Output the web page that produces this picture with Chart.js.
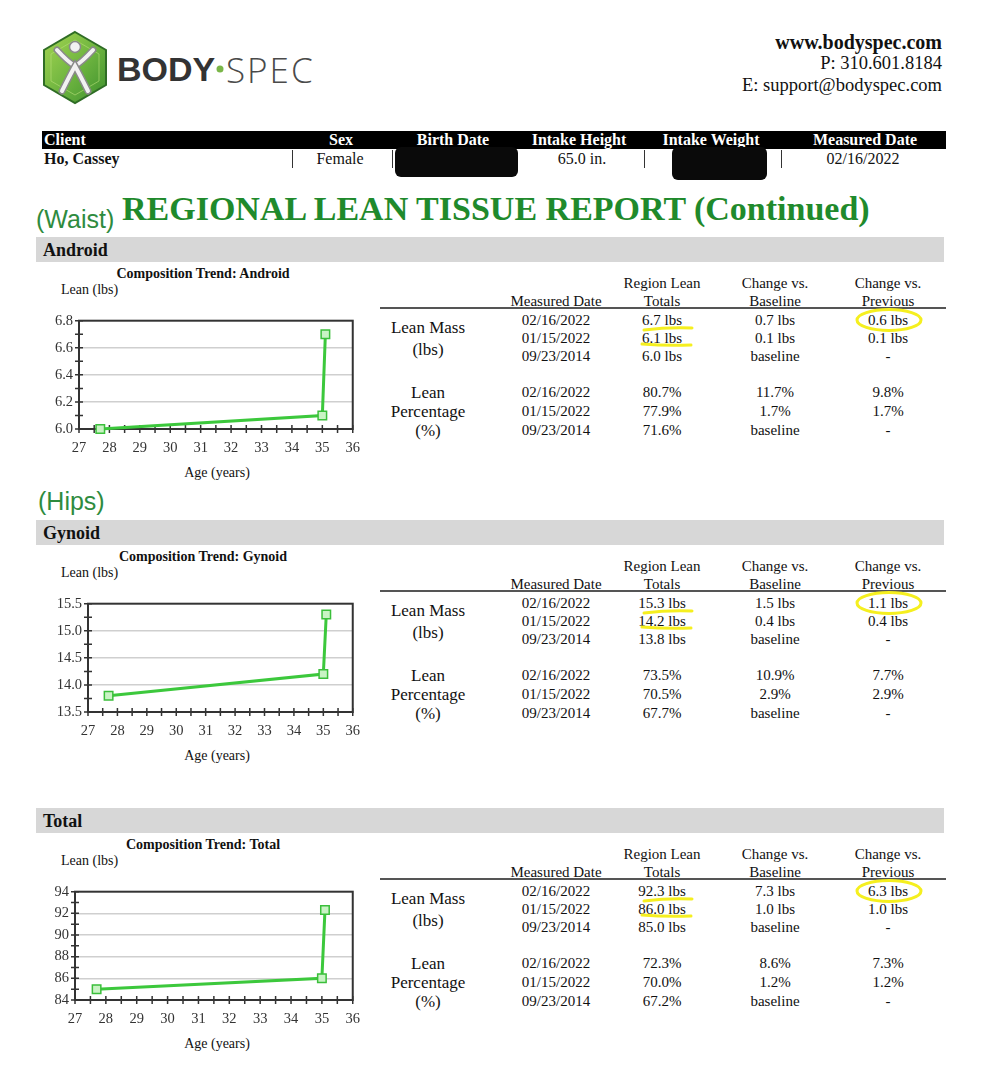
<!DOCTYPE html>
<html>
<head>
<meta charset="utf-8">
<script src="https://cdn.jsdelivr.net/npm/chart.js@4.4.1/dist/chart.umd.min.js"></script>
<style>
  body { margin: 0; background: #fff; }
  #page { position: relative; width: 1000px; height: 1076px; overflow: hidden;
          font-family: "Liberation Serif", "Times New Roman", serif; color: #111; }
  .t { position: absolute; white-space: nowrap; line-height: 1; }
  .box { position: absolute; }
  svg.overlay { position: absolute; left: 0; top: 0; pointer-events: none; }
</style>
</head>
<body>
<div id="page">
  <svg class="overlay" width="300" height="120" style="z-index:1">
    <defs>
      <linearGradient id="hexg" x1="0" y1="0" x2="1" y2="1">
        <stop offset="0" stop-color="#a6d651"/>
        <stop offset="0.55" stop-color="#6cb33f"/>
        <stop offset="1" stop-color="#3c8f2c"/>
      </linearGradient>
    </defs>
    <polygon points="75,32 106,50 106,85 75,103 44,85 44,50" fill="url(#hexg)" stroke="#2f6d25" stroke-width="2"/>
    <polygon points="75,40 99,54 99,81 75,95 51,81 51,54" fill="none" stroke="#b9e07a" stroke-width="1" opacity="0.6"/>
    <path d="M57,50 Q68,62 75,66 Q82,62 93,50" fill="none" stroke="#8a8a8a" stroke-width="7" stroke-linecap="round"/>
    <path d="M57,50 Q68,62 75,66 Q82,62 93,50" fill="none" stroke="#f2f2f2" stroke-width="4" stroke-linecap="round"/>
    <path d="M62,91 Q70,75 75,66 Q80,75 88,91" fill="none" stroke="#8a8a8a" stroke-width="7" stroke-linecap="round"/>
    <path d="M62,91 Q70,75 75,66 Q80,75 88,91" fill="none" stroke="#f2f2f2" stroke-width="4" stroke-linecap="round"/>
    <circle cx="75" cy="47" r="5.5" fill="#f2f2f2" stroke="#8a8a8a" stroke-width="1.5"/>
    <circle cx="220" cy="69" r="3.5" fill="#7ab648"/>
  </svg>
</div>
<script>
// chart values, oldest scan first
const ages = [27.7, 35.0, 35.1];
const androidLean = [6.0, 6.1, 6.7];
const gynoidLean = [13.8, 14.2, 15.3];
const totalLean = [85.0, 86.0, 92.3];
const ageMin = 27, ageMax = 36;

// table values, newest scan first
const measuredDates = ['02/16/2022', '01/15/2022', '09/23/2014'];
const androidTotals = ['6.7 lbs', '6.1 lbs', '6.0 lbs'];
const androidVsBase = ['0.7 lbs', '0.1 lbs', 'baseline'];
const androidVsPrev = ['0.6 lbs', '0.1 lbs', '-'];
const androidPct = ['80.7%', '77.9%', '71.6%'];
const androidPctBase = ['11.7%', '1.7%', 'baseline'];
const androidPctPrev = ['9.8%', '1.7%', '-'];
const gynoidTotals = ['15.3 lbs', '14.2 lbs', '13.8 lbs'];
const gynoidVsBase = ['1.5 lbs', '0.4 lbs', 'baseline'];
const gynoidVsPrev = ['1.1 lbs', '0.4 lbs', '-'];
const gynoidPct = ['73.5%', '70.5%', '67.7%'];
const gynoidPctBase = ['10.9%', '2.9%', 'baseline'];
const gynoidPctPrev = ['7.7%', '2.9%', '-'];
const totalTotals = ['92.3 lbs', '86.0 lbs', '85.0 lbs'];
const totalVsBase = ['7.3 lbs', '1.0 lbs', 'baseline'];
const totalVsPrev = ['6.3 lbs', '1.0 lbs', '-'];
const totalPct = ['72.3%', '70.0%', '67.2%'];
const totalPctBase = ['8.6%', '1.2%', 'baseline'];
const totalPctPrev = ['7.3%', '1.2%', '-'];

const clientHeads = ['Client', 'Sex', 'Birth Date', 'Intake Height', 'Intake Weight', 'Measured Date'];
const clientVals = ['Ho, Cassey', 'Female', '', '65.0 in.', '', '02/16/2022'];

const page = document.getElementById('page');
const SERIF = '"Liberation Serif", "Times New Roman", serif';
const GREEN = '#1f8a2c';

function put(x, y, s, css, align) {
  const d = document.createElement('div');
  d.className = 't';
  d.textContent = s;
  d.style.left = x + 'px';
  d.style.top = y + 'px';
  const tx = align === 'left' ? '0' : align === 'right' ? '-100%' : '-50%';
  d.style.transform = 'translate(' + tx + ',-50%)';
  Object.assign(d.style, css || {});
  page.appendChild(d);
  return d;
}
function rect(x, y, w, h, css) {
  const d = document.createElement('div');
  d.className = 'box';
  Object.assign(d.style, { left: x + 'px', top: y + 'px', width: w + 'px', height: h + 'px' }, css || {});
  page.appendChild(d);
  return d;
}

// ---- header ----
put(117, 69, 'BODY', { fontFamily: '"Liberation Sans", Arial, sans-serif', fontWeight: 'bold', fontSize: '34px', color: '#333' }, 'left');
put(226, 69, 'SPEC', { fontFamily: '"Open Sans", sans-serif', fontWeight: '300', fontSize: '35px', color: '#4a4a4a', letterSpacing: '2px' }, 'left');
put(942, 42, 'www.bodyspec.com', { fontWeight: 'bold', fontSize: '20px' }, 'right');
put(942, 63, 'P: 310.601.8184', { fontSize: '18.5px' }, 'right');
put(942, 85, 'E: support@bodyspec.com', { fontSize: '18.5px' }, 'right');

rect(42, 131, 904, 18, { background: '#000' });
const headX = [44, 341, 453, 579, 711, 865];
clientHeads.forEach((h, i) => {
  put(headX[i], 140, h, { color: '#fff', fontWeight: 'bold', fontSize: '16px' }, i === 0 ? 'left' : 'center');
});
const valX = [44, 340, 453, 582, 711, 863];
clientVals.forEach((v, i) => {
  if (v) put(valX[i], 159, v, { fontSize: '16px', fontWeight: i === 0 ? 'bold' : 'normal' }, i === 0 ? 'left' : 'center');
});
[292, 392, 644, 781].forEach(x => rect(x, 150, 1, 18, { background: '#333' }));
rect(395, 147, 123, 30, { background: '#0a0a0a', borderRadius: '6px' });
rect(672, 147, 95, 33, { background: '#0a0a0a', borderRadius: '6px' });

put(122, 209, 'REGIONAL LEAN TISSUE REPORT (Continued)', { color: GREEN, fontWeight: 'bold', fontSize: '34px' }, 'left');
put(36, 219, '(Waist)', { color: '#2e8b3e', fontFamily: '"Liberation Sans", Arial, sans-serif', fontSize: '25px' }, 'left');
put(38, 501, '(Hips)', { color: '#2e8b3e', fontFamily: '"Liberation Sans", Arial, sans-serif', fontSize: '25px' }, 'left');

// ---- chart helpers ----
const frameTicks = {
  id: 'frameTicks',
  beforeDatasetsDraw(chart, args, opts) {
    const { ctx, chartArea: a, scales: { x, y } } = chart;
    ctx.save();
    ctx.strokeStyle = '#333';
    ctx.lineWidth = 1.5;
    ctx.beginPath();
    const nx = Math.round((ageMax - ageMin) / opts.xStep);
    for (let i = 0; i <= nx; i++) {
      const px = x.getPixelForValue(ageMin + i * opts.xStep);
      ctx.moveTo(px, a.bottom - 4); ctx.lineTo(px, a.bottom + 4);
    }
    const ny = Math.round((y.max - y.min) / opts.yStep);
    for (let i = 0; i <= ny; i++) {
      const py = y.getPixelForValue(y.min + i * opts.yStep);
      ctx.moveTo(a.left - 4, py); ctx.lineTo(a.left + 4, py);
    }
    ctx.stroke();
    ctx.lineWidth = 2;
    ctx.strokeRect(a.left, a.top, a.right - a.left, a.bottom - a.top);
    ctx.restore();
  }
};

function trendChart(top, plotLeft, lean, yMin, yMax, yStep, yMinor, dec) {
  const left = plotLeft - 40;
  const box = rect(left, top + 69, 370 - left, 153);
  const cv = document.createElement('canvas');
  box.appendChild(cv);
  new Chart(cv, {
    type: 'line',
    data: {
      datasets: [{
        data: ages.map((a, i) => ({ x: a, y: lean[i] })),
        borderColor: '#3cc83c',
        borderWidth: 3,
        pointStyle: 'rect',
        pointRadius: 6,
        pointBackgroundColor: '#c9f3c4',
        pointBorderColor: '#3bbf3b',
        pointBorderWidth: 1.5,
        clip: false
      }]
    },
    options: {
      responsive: true,
      maintainAspectRatio: false,
      animation: false,
      layout: { padding: { top: 10, right: 15, left: 0, bottom: 0 } },
      plugins: { legend: { display: false }, tooltip: { enabled: false },
                 frameTicks: { xStep: 0.5, yStep: yMinor } },
      scales: {
        x: {
          type: 'linear', min: ageMin, max: ageMax,
          afterFit: s => { s.height = 30; },
          grid: { display: false, drawTicks: false },
          border: { display: false },
          ticks: { stepSize: 1, padding: 10, color: '#333', font: { family: SERIF, size: 14.5 } }
        },
        y: {
          min: yMin, max: yMax,
          afterFit: s => { s.width = 40; },
          grid: {
            drawTicks: false, lineWidth: 1.5,
            color: c => (c.tick && (Math.abs(c.tick.value - yMin) < 1e-6 || Math.abs(c.tick.value - yMax) < 1e-6)) ? 'rgba(0,0,0,0)' : '#cfcfcf'
          },
          border: { display: false },
          ticks: { stepSize: yStep, padding: 6, color: '#333', font: { family: SERIF, size: 14.5 },
                   callback: v => Number(v).toFixed(dec) }
        }
      }
    },
    plugins: [frameTicks]
  });
}

function section(name, top, plotLeft, lean, yMin, yMax, yStep, yMinor, dec, tbl) {
  rect(36, top, 908, 25, { background: '#d7d7d7' });
  put(43, top + 13, name, { fontWeight: 'bold', fontSize: '18px' }, 'left');
  put(203, top + 37, 'Composition Trend: ' + name, { fontWeight: 'bold', fontSize: '14px' });
  put(61, top + 53, 'Lean (lbs)', { fontSize: '14px' }, 'left');
  put(217, top + 236, 'Age (years)', { fontSize: '14px' });
  trendChart(top, plotLeft, lean, yMin, yMax, yStep, yMinor, dec);

  const f = { fontSize: '15px' };
  put(662, top + 46, 'Region Lean', f); put(775, top + 46, 'Change vs.', f); put(888, top + 46, 'Change vs.', f);
  put(556, top + 64, 'Measured Date', f); put(662, top + 64, 'Totals', f);
  put(775, top + 64, 'Baseline', f); put(888, top + 64, 'Previous', f);
  rect(380, top + 70, 566, 2, { background: '#555' });
  const lf = { fontSize: '17px' };
  put(428, top + 90, 'Lean Mass', lf); put(428, top + 112, '(lbs)', lf);
  put(428, top + 155, 'Lean', lf); put(428, top + 174, 'Percentage', lf); put(428, top + 193, '(%)', lf);
  const massY = [83, 101, 119], pctY = [155, 174, 193];
  measuredDates.forEach((d, i) => {
    put(556, top + massY[i], d, f); put(662, top + massY[i], tbl[0][i], f);
    put(775, top + massY[i], tbl[1][i], f); put(888, top + massY[i], tbl[2][i], f);
    put(556, top + pctY[i], d, f); put(662, top + pctY[i], tbl[3][i], f);
    put(775, top + pctY[i], tbl[4][i], f); put(888, top + pctY[i], tbl[5][i], f);
  });
  // highlighter marks on the scan
  const ns = 'http://www.w3.org/2000/svg';
  const svg = document.createElementNS(ns, 'svg');
  svg.setAttribute('class', 'overlay');
  svg.setAttribute('width', 1000); svg.setAttribute('height', 1076);
  svg.style.zIndex = 2;
  const mk = (tag, attrs) => { const e = document.createElementNS(ns, tag); for (const k in attrs) e.setAttribute(k, attrs[k]); svg.appendChild(e); };
  const ys = '#f5ef1f';
  mk('path', { d: `M644 ${top + 93} Q668 ${top + 90} 692 ${top + 91}`, stroke: ys, 'stroke-width': 3, fill: 'none', 'stroke-linecap': 'round' });
  mk('path', { d: `M642 ${top + 107} Q666 ${top + 109} 691 ${top + 108}`, stroke: ys, 'stroke-width': 3, fill: 'none', 'stroke-linecap': 'round' });
  mk('ellipse', { cx: 889, cy: top + 83, rx: 32, ry: 10.5, stroke: ys, 'stroke-width': 3, fill: 'none' });
  page.appendChild(svg);
}

section('Android', 237, 79, androidLean, 6.0, 6.8, 0.2, 0.1, 1,
  [androidTotals, androidVsBase, androidVsPrev, androidPct, androidPctBase, androidPctPrev]);
section('Gynoid', 520, 88, gynoidLean, 13.5, 15.5, 0.5, 0.25, 1,
  [gynoidTotals, gynoidVsBase, gynoidVsPrev, gynoidPct, gynoidPctBase, gynoidPctPrev]);
section('Total', 808, 75, totalLean, 84, 94, 2, 1, 0,
  [totalTotals, totalVsBase, totalVsPrev, totalPct, totalPctBase, totalPctPrev]);
</script>
</body>
</html>
